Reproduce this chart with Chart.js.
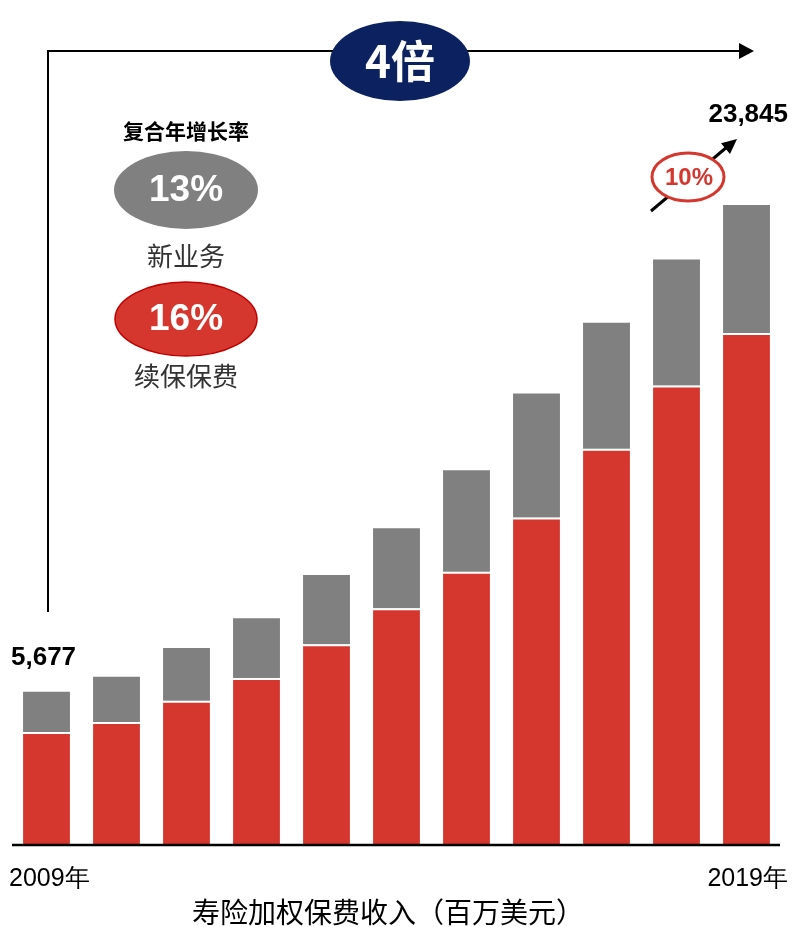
<!DOCTYPE html>
<html>
<head>
<meta charset="utf-8">
<script src="https://cdn.jsdelivr.net/npm/chart.js@4"></script>
<style>
  body { margin: 0; background: #fff; }
  canvas { display: block; }
</style>
</head>
<body>
<canvas id="premiumChart" width="792" height="927"></canvas>
<script>
// 2009 - 2019, millions of USD
const years = ['2009', '2010', '2011', '2012', '2013', '2014', '2015', '2016', '2017', '2018', '2019'];
const renewalPremium = [4180, 4550, 5345, 6190, 7450, 8800, 10155, 12185, 14745, 17110, 19070];
const newBusiness = [1497, 1690, 1965, 2230, 2585, 2985, 3795, 4625, 4700, 4700, 4775];
const firstLabel = '2009年';
const lastLabel = '2019年';
const axisTitle = '寿险加权保费收入（百万美元）';

const RED = '#d5372f';
const GRAY = '#808080';
const NAVY = '#0c2160';
const NUM_FONT = '"Liberation Sans", Arial, sans-serif';
const CJK_FONT = '"Noto Sans CJK SC", "Liberation Sans", sans-serif';

function fmt(n) {
    return n.toLocaleString('en-US');
}

function ellipse(ctx, cx, cy, rx, ry, fill, stroke, lw) {
    ctx.beginPath();
    ctx.ellipse(cx, cy, rx, ry, 0, 0, Math.PI * 2);
    if (fill) { ctx.fillStyle = fill; ctx.fill(); }
    if (stroke) { ctx.lineWidth = lw; ctx.strokeStyle = stroke; ctx.stroke(); }
}

function text(ctx, str, x, y, font, color, align) {
    ctx.font = font;
    ctx.fillStyle = color;
    ctx.textAlign = align || 'center';
    ctx.textBaseline = 'middle';
    ctx.fillText(str, x, y);
}

function arrowHead(ctx, x, y, angle, len, half) {
    ctx.save();
    ctx.translate(x, y);
    ctx.rotate(angle);
    ctx.beginPath();
    ctx.moveTo(0, 0);
    ctx.lineTo(-len, -half);
    ctx.lineTo(-len, half);
    ctx.closePath();
    ctx.fillStyle = '#000';
    ctx.fill();
    ctx.restore();
}

// axis line, growth bracket, CAGR bubbles and labels
const decorations = {
    id: 'decorations',
    afterDraw(chart) {
        const ctx = chart.ctx;
        const y = chart.scales.y;
        const totals = years.map((_, i) => renewalPremium[i] + newBusiness[i]);
        const last = years.length - 1;
        ctx.save();

        // baseline
        ctx.strokeStyle = '#000';
        ctx.lineWidth = 2.5;
        ctx.beginPath();
        ctx.moveTo(12, y.getPixelForValue(0) + 1);
        ctx.lineTo(780, y.getPixelForValue(0) + 1);
        ctx.stroke();

        // year labels and title
        text(ctx, firstLabel, 9, 879, '25px ' + NUM_FONT, '#000', 'left');
        text(ctx, lastLabel, 788, 879, '25px ' + NUM_FONT, '#000', 'right');
        text(ctx, axisTitle, 388, 912, '28px ' + CJK_FONT, '#000', 'center');

        // end values
        text(ctx, fmt(totals[0]), 11, y.getPixelForValue(totals[0]) - 34, 'bold 26px ' + NUM_FONT, '#000', 'left');
        text(ctx, fmt(totals[last]), 788, y.getPixelForValue(totals[last]) - 90, 'bold 26px ' + NUM_FONT, '#000', 'right');

        // bracket with arrow
        ctx.strokeStyle = '#000';
        ctx.lineWidth = 2;
        ctx.beginPath();
        ctx.moveTo(48, 612);
        ctx.lineTo(48, 51);
        ctx.lineTo(742, 51);
        ctx.stroke();
        arrowHead(ctx, 754, 51, 0, 15, 8);
        ellipse(ctx, 400, 61, 70, 40, NAVY);
        text(ctx, '4倍', 400, 61, 'bold 44px ' + CJK_FONT, '#fff');

        // last year growth arrow
        ctx.lineWidth = 3;
        ctx.beginPath();
        ctx.moveTo(651, 211);
        ctx.lineTo(727, 147);
        ctx.stroke();
        arrowHead(ctx, 737, 139, Math.atan2(-72, 86), 15, 7);
        ellipse(ctx, 688, 177, 36, 24, '#fff', RED, 3);
        text(ctx, '10%', 689, 178, 'bold 24px ' + NUM_FONT, RED);

        // CAGR legend
        text(ctx, '复合年增长率', 186, 131, 'bold 21px ' + CJK_FONT, '#000');
        ellipse(ctx, 186, 190, 72, 39, GRAY);
        text(ctx, '13%', 186, 191, 'bold 37px ' + NUM_FONT, '#fff');
        text(ctx, '新业务', 186, 256, '26px ' + CJK_FONT, '#333');
        ellipse(ctx, 186, 319, 71, 37, RED, '#c00000', 1.5);
        text(ctx, '16%', 186, 320, 'bold 37px ' + NUM_FONT, '#fff');
        text(ctx, '续保保费', 186, 376, '26px ' + CJK_FONT, '#333');

        ctx.restore();
    }
};

new Chart(document.getElementById('premiumChart'), {
    type: 'bar',
    data: {
        labels: years,
        datasets: [
            {
                label: '续保保费',
                data: renewalPremium,
                backgroundColor: RED,
                borderColor: '#fff',
                borderWidth: { top: 2, left: 0, right: 0, bottom: 0 },
                borderSkipped: false
            },
            {
                label: '新业务',
                data: newBusiness,
                backgroundColor: GRAY,
                borderWidth: 0
            }
        ]
    },
    options: {
        responsive: false,
        animation: false,
        layout: { padding: { top: 40, bottom: 83, left: 11.5, right: 10.5 } },
        datasets: { bar: { categoryPercentage: 1, barPercentage: 0.67 } },
        scales: {
            x: { stacked: true, display: false },
            y: { stacked: true, display: false, min: 0, max: 30000 }
        },
        plugins: {
            legend: { display: false },
            tooltip: { enabled: false }
        }
    },
    plugins: [decorations]
});
</script>
</body>
</html>
